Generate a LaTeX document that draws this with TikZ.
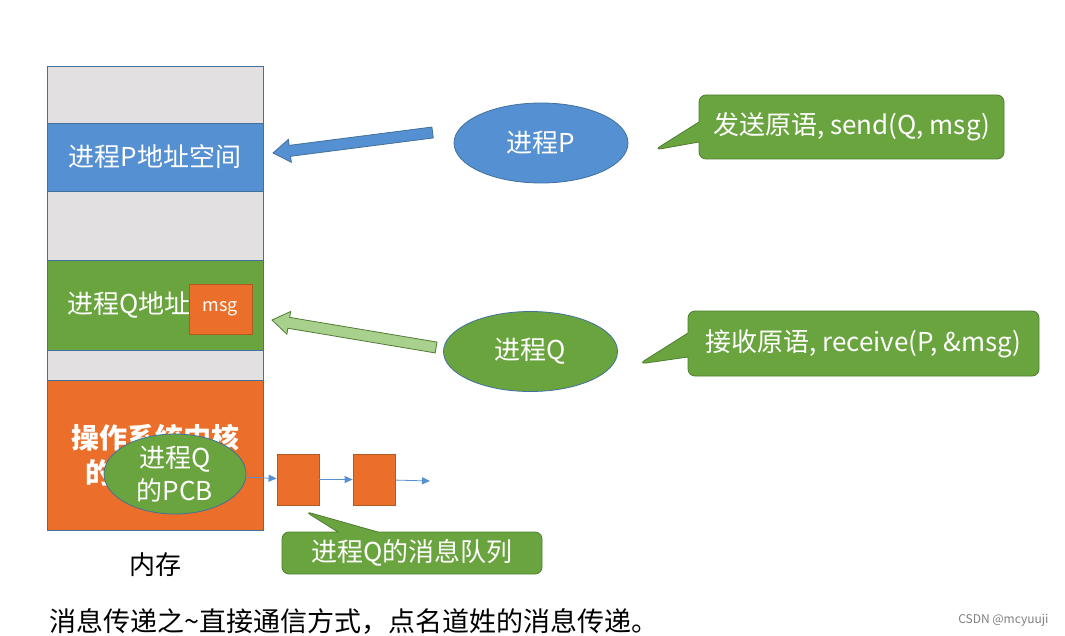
\documentclass[tikz,border=0pt]{standalone}
\usepackage{fontspec}
\setmainfont{Noto Sans CJK SC}
\usetikzlibrary{shapes.geometric,shapes.callouts,calc,arrows.meta}

\definecolor{ppblue}{HTML}{5590D2}
\definecolor{ppblueline}{HTML}{41719C}
\definecolor{ppgreen}{HTML}{6AA43F}
\definecolor{ppgreenline}{HTML}{4F7D31}
\definecolor{pporange}{HTML}{EB6F2A}
\definecolor{pporangeline}{HTML}{AE5A21}
\definecolor{ppgray}{HTML}{E2E0E0}
\definecolor{pplightgreen}{HTML}{A9D18E}

% block arrow: tail, tip, fill, outline
\newcommand{\blockarrow}[4]{%
  \coordinate (hb) at ($(#2)!17pt!(#1)$);
  \filldraw[fill=#3, draw=#4, line width=0.8pt]
    ($(#1)!5.5pt!90:(#2)$) -- ($(hb)!5.5pt!90:(#2)$) -- ($(hb)!11.5pt!90:(#2)$)
    -- (#2) -- ($(hb)!11.5pt!-90:(#2)$) -- ($(hb)!5.5pt!-90:(#2)$)
    -- ($(#1)!5.5pt!-90:(#2)$) -- cycle;
}

\tikzset{
  seg/.style={draw=ppblueline, line width=0.8pt, minimum width=216pt, anchor=north west,
    inner sep=0pt, outer sep=0pt, text=white, font=\fontsize{26}{31}\selectfont},
  proc/.style={ellipse, line width=0.8pt, text=white, font=\fontsize{26}{31}\selectfont,
    minimum width=174pt, minimum height=80pt, inner sep=0pt},
  bubble/.style={rectangle callout, rounded corners=7pt, fill=ppgreen, draw=ppgreenline,
    line width=0.8pt, text=white, font=\fontsize{26}{31}\selectfont, inner sep=0pt},
  qbox/.style={draw=pporangeline, fill=pporange, line width=0.8pt, minimum width=42pt,
    minimum height=51pt, inner sep=0pt},
  link/.style={-{Triangle[length=8pt,width=7pt]}, ppblue, line width=0.8pt}
}

\begin{document}
\begin{tikzpicture}[x=1pt, y=-1pt]
  \useasboundingbox[fill=white] (0,0) rectangle (1065,636);

  % memory column
  \node[seg, fill=ppgray, minimum height=57pt] (g1) at (47,66) {};
  \node[seg, fill=ppblue, minimum height=68pt] (pspace) at (g1.south west) {进程P地址空间};
  \node[seg, fill=ppgray, minimum height=69pt] (g2) at (pspace.south west) {};
  \node[seg, fill=ppgreen, minimum height=90pt] (qspace) at (g2.south west) {进程Q地址\hphantom{空间}};
  \node[seg, fill=ppgray, minimum height=30pt] (g3) at (qspace.south west) {};
  \node[seg, fill=pporange, minimum height=150pt, align=center,
    font=\fontsize{28}{35}\selectfont\bfseries] (kern) at (g3.south west) {操作系统内核\\的\hphantom{地址空间}};
  \node[qbox, minimum width=63pt, minimum height=50pt, text=white,
    font=\fontsize{18}{20}\selectfont] (msg) at (220.5,309) {msg};
  \node[font=\fontsize{26}{31}\selectfont] (mem) at ($(kern.south)+(0,35)$) {内存};

  % processes
  \node[proc, fill=ppblue, draw=ppblueline] (procP) at (541,143) {进程P};
  \node[proc, fill=ppgreen, draw=ppblueline] (procQ) at (530.5,351.5) {进程Q};
  \node[proc, fill=ppgreen, draw=ppblueline, minimum width=142pt, align=center,
    font=\fontsize{26}{33}\selectfont] (pcb) at (175,474) {进程Q\\的PCB};

  % block arrows
  \coordinate (pTail) at ($(procP.west)+(-21,-10.5)$);
  \coordinate (pTip) at ($(pspace.east)+(10,-4)$);
  \blockarrow{pTail}{pTip}{ppblue}{ppblueline}
  \coordinate (qTail) at ($(procQ.west)+(-7,-4)$);
  \coordinate (qTip) at ($(qspace.east)+(9,15)$);
  \blockarrow{qTail}{qTip}{pplightgreen}{ppgreenline}

  % message queue
  \node[qbox] (q1) at (298,479.5) {};
  \node[qbox] (q2) at (374,479.5) {};
  \coordinate (qEnd) at (430,481);
  \draw[link] (pcb) -- (q1);
  \draw[link] (q1) -- (q2);
  \draw[link] (q2) -- (qEnd);

  % callouts
  \coordinate (sendTip) at ($(procP.east)+(26,7)$);
  \node[bubble, minimum width=305pt, minimum height=64pt, callout absolute pointer={(sendTip)},
    callout pointer width=20pt] (send) at (851.5,127) {发送原语, send(Q, msg)};
  \coordinate (recvTip) at ($(procQ.east)+(21,12.5)$);
  \node[bubble, minimum width=351pt, minimum height=65pt, callout absolute pointer={(recvTip)},
    callout pointer width=24pt] (recv) at (863.5,343.5) {接收原语, receive(P, \&msg)};
  \coordinate (queueTip) at ($(q1.south)+(7,6)$);
  \node[bubble, minimum width=260pt, minimum height=42pt, callout absolute pointer={(queueTip)},
    callout pointer width=40pt] (queue) at (412,553) {进程Q的消息队列};

  % caption and watermark
  \node[anchor=west, font=\fontsize{27}{32}\selectfont] (caption) at (46,621)
    {消息传递之\textasciitilde 直接通信方式，点名道姓的消息传递。};
  \node[anchor=east, text=gray, font=\fontsize{12}{14}\selectfont] (mark) at (1052,620) {CSDN @mcyuuji};
\end{tikzpicture}
\end{document}
